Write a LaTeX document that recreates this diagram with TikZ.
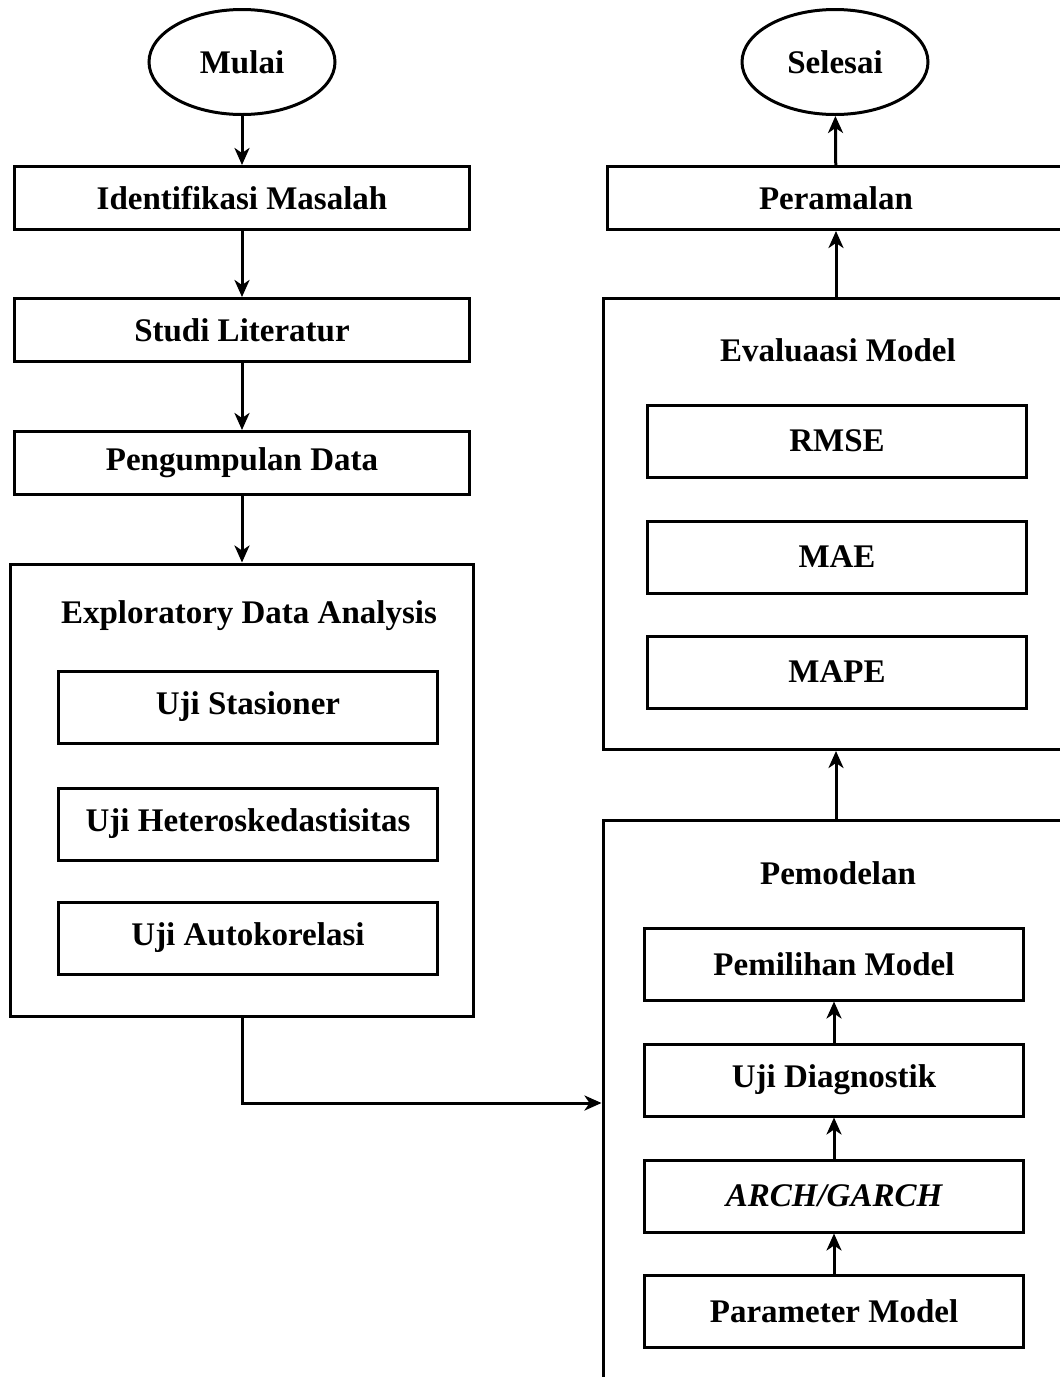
\documentclass[tikz,border=0pt]{standalone}
\usepackage{fontspec}
\setmainfont{Liberation Serif}
\usetikzlibrary{arrows.meta,shapes.geometric}
\tikzstyle{terminal}=[draw,ellipse,line width=3pt,minimum width=186pt,minimum height=105pt,font=\fontsize{33}{40}\selectfont\bfseries]
\tikzstyle{proses}=[draw,rectangle,line width=3pt,minimum height=63pt,font=\fontsize{33}{40}\selectfont\bfseries]
\tikzstyle{subproses}=[draw,rectangle,line width=3pt,minimum width=379pt,minimum height=72pt,font=\fontsize{33}{40}\selectfont\bfseries]
\tikzstyle{wadah}=[draw,rectangle,line width=3pt,inner sep=0pt]
\tikzstyle{judul}=[font=\fontsize{33}{40}\selectfont\bfseries]
\tikzstyle{panah}=[-{Stealth[length=17pt,width=15pt,inset=5pt]},line width=3pt]

\begin{document}
\begin{tikzpicture}[x=1pt,y=-1pt]
      \useasboundingbox (0,0) rectangle (1060,1377);
      \clip (0,0) rectangle (1060,1377);

      % kolom kiri
      \node[terminal] (mulai) at (242, 62) {Mulai};
      \node[proses, minimum width=455pt] (identifikasi) at (242, 198) {Identifikasi Masalah};
      \node[proses, minimum width=455pt] (studi) at (242, 330) {Studi Literatur};
      \node[proses, minimum width=455pt] (pengumpulan) at (242, 463) {Pengumpulan Data};
      \node[wadah, minimum width=463pt, minimum height=452pt] (eda) at (242, 790) {};
      \node[judul] (edajudul) at (249, 616) {Exploratory Data Analysis};
      \node[subproses] (stasioner) at (248, 707) {Uji Stasioner};
      \node[subproses] (hetero) at (248, 824) {Uji Heteroskedastisitas};
      \node[subproses] (autokor) at (248, 938) {Uji Autokorelasi};

      % kolom kanan
      \node[terminal] (selesai) at (835, 62) {Selesai};
      \node[proses, minimum width=458pt] (peramalan) at (836, 198) {Peramalan};
      \node[wadah, minimum width=466pt, minimum height=451pt] (evaluasi) at (836, 524) {};
      \node[judul] (evaljudul) at (838, 350) {Evaluaasi Model};
      \node[subproses] (rmse) at (837, 441) {RMSE};
      \node[subproses] (mae) at (837, 557) {MAE};
      \node[subproses] (mape) at (837, 672) {MAPE};
      \node[wadah, minimum width=466pt, minimum height=566pt] (pemodelan) at (836, 1103) {};
      \node[judul] (modeljudul) at (838, 873) {Pemodelan};
      \node[subproses] (pemilihan) at (834, 964) {Pemilihan Model};
      \node[subproses] (diagnostik) at (834, 1080) {Uji Diagnostik};
      \node[subproses] (archgarch) at (834, 1196) {\itshape ARCH/GARCH};
      \node[subproses] (parameter) at (834, 1311) {Parameter Model};

      \draw[panah] (mulai) -- (identifikasi);
      \draw[panah] (identifikasi) -- (studi);
      \draw[panah] (studi) -- (pengumpulan);
      \draw[panah] (pengumpulan) -- (eda);
      \draw[panah] (eda.south) |- (pemodelan.west);
      \draw[panah] (parameter) -- (archgarch);
      \draw[panah] (archgarch) -- (diagnostik);
      \draw[panah] (diagnostik) -- (pemilihan);
      \draw[panah] (pemodelan) -- (evaluasi);
      \draw[panah] (evaluasi) -- (peramalan);
      \draw[panah] (peramalan) -- (selesai);
    \end{tikzpicture}
\end{document}
